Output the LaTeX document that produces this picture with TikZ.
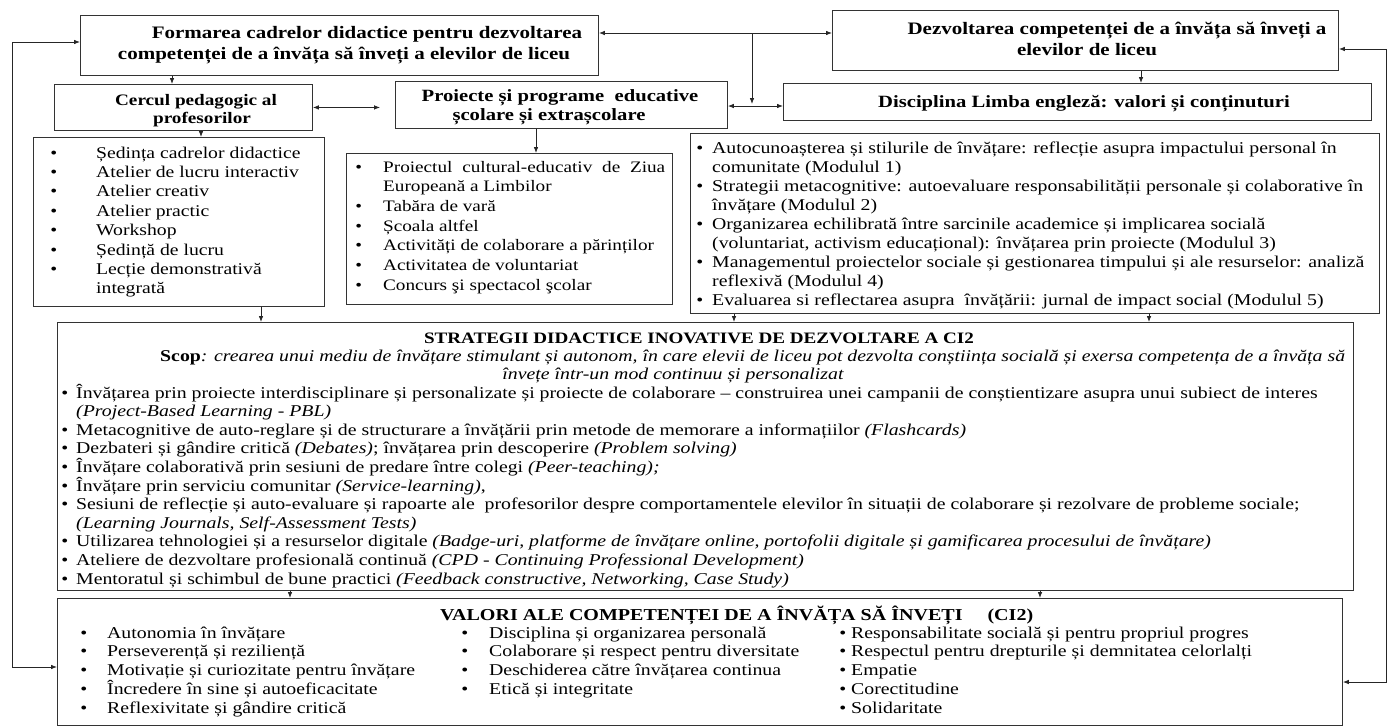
\documentclass[tikz,border=0pt]{standalone}
\usepackage{fontspec}
\setmainfont{Liberation Serif}[FakeStretch=1.2]
\usetikzlibrary{arrows.meta}
\newcommand\mb[1]{\llap{\textbullet\hspace{#1}}}
\begin{document}
\begin{tikzpicture}[x=1pt,y=-1pt,
 box/.style={draw=black!80, line width=0.9pt, inner sep=0pt, anchor=north west},
 arr/.style={draw=black!85, line width=0.8pt, -{Latex[length=6pt,width=4.6pt]}},
 darr/.style={draw=black!85, line width=0.8pt, {Latex[length=6pt,width=4.6pt]}-{Latex[length=6pt,width=4.6pt]}},
 hd/.style={inner sep=0pt, anchor=base, font=\fontsize{17.5}{20}\selectfont\bfseries},
 hdw/.style={inner sep=0pt, anchor=base west},
 ln/.style={inner sep=0pt, anchor=base west},
 ]
\useasboundingbox (0,0) rectangle (1387,726);
% boxes
\node[box, minimum width=518pt, minimum height=60pt] (F) at (80,15) {};
\node[box, minimum width=506pt, minimum height=60pt] (D) at (832,10) {};
\node[box, minimum width=258pt, minimum height=46pt] (C) at (54,84) {};
\node[box, minimum width=332pt, minimum height=47pt] (P) at (395,81) {};
\node[box, minimum width=588pt, minimum height=37pt] (L) at (783,83) {};
\node[box, minimum width=291pt, minimum height=169pt] (CL) at (33,137) {};
\node[box, minimum width=326pt, minimum height=151pt] (PL) at (346,153) {};
\node[box, minimum width=689pt, minimum height=180pt] (RL) at (690,133) {};
\node[box, minimum width=1296pt, minimum height=268pt] (S) at (57,322) {};
\node[box, minimum width=1285pt, minimum height=127pt] (V) at (57,598) {};
% titles
\node[hd] (F1) at (367,38) {Formarea cadrelor didactice pentru dezvoltarea};
\node[hd] (F2) at (344,59) {competenței de a învăța să înveți a elevilor de liceu};
\node[hd] (D1) at (1117,34) {Dezvoltarea competenței de a învăța să înveți a};
\node[hd] (D2) at (1087,55) {elevilor de liceu};
\node[hd, font=\fontsize{16}{18}\selectfont\bfseries] (C1) at (196,105) {Cercul pedagogic al};
\node[hd, font=\fontsize{16}{18}\selectfont\bfseries] (C2) at (202,123) {profesorilor};
\node[hd, font=\fontsize{17.2}{19}\selectfont\bfseries] (P1) at (560,101) {Proiecte și programe\ \ educative};
\node[hd, font=\fontsize{17.2}{19}\selectfont\bfseries] (P2) at (549,120) {școlare și extrașcolare};
\node[hd, font=\fontsize{17.2}{19}\selectfont\bfseries] (L1) at (1084,107) {Disciplina Limba engleză: valori și conținuturi};
% Cercul list
\foreach \tx [count=\i] in {
 {\mb{39pt}Ședința cadrelor didactice},
 {\mb{39pt}Atelier de lucru interactiv},
 {\mb{39pt}Atelier creativ},
 {\mb{39pt}Atelier practic},
 {\mb{39pt}Workshop},
 {\mb{39pt}Ședință de lucru},
 {\mb{39pt}Lecție demonstrativă},
 {integrată}}
 \node[ln, font=\fontsize{16.4}{19}\selectfont] (cl\i) at (96,{158+19.4*(\i-1)}) {\tx};
% Proiecte list
\foreach \tx [count=\i] in {
 {\mb{21pt}\makebox[282pt][s]{Proiectul cultural-educativ de Ziua}},
 {Europeană a Limbilor},
 {\mb{21pt}Tabăra de vară},
 {\mb{21pt}Școala altfel},
 {\mb{21pt}Activități de colaborare a părinților},
 {\mb{21pt}Activitatea de voluntariat},
 {\mb{21pt}Concurs şi spectacol şcolar}}
 \node[ln, font=\fontsize{16}{19}\selectfont] (pl\i) at (383,{172+19.7*(\i-1)}) {\tx};
% right list
\foreach \tx [count=\i] in {
 {\mb{9pt}Autocunoașterea și stilurile de învățare: reflecție asupra impactului personal în},
 {comunitate (Modulul 1)},
 {\mb{9pt}Strategii metacognitive: autoevaluare responsabilității personale și colaborative în},
 {învățare (Modulul 2)},
 {\mb{9pt}Organizarea echilibrată între sarcinile academice și implicarea socială},
 {(voluntariat, activism educațional): învățarea prin proiecte (Modulul 3)},
 {\mb{9pt}Managementul proiectelor sociale și gestionarea timpului și ale resurselor: analiză},
 {reflexivă (Modulul 4)},
 {\mb{9pt}Evaluarea si reflectarea asupra\ \ învățării: jurnal de impact social (Modulul 5)}}
 \node[ln, font=\fontsize{16.5}{19}\selectfont] (rl\i) at (712,{153+19*(\i-1)}) {\tx};
% Strategii
\node[hd, font=\fontsize{15.9}{18}\selectfont\bfseries] (S0) at (699,343) {STRATEGII DIDACTICE INOVATIVE DE DEZVOLTARE A CI2};
\node[ln, font=\fontsize{16.5}{18}\selectfont] (S1) at (160,361) {\textbf{Scop}\textit{: crearea unui mediu de învățare stimulant și autonom, în care elevii de liceu pot dezvolta conștiința socială și exersa competența de a învăța să}};
\node[hd, font=\fontsize{16.5}{18}\selectfont\itshape] (S2) at (673,379) {învețe într-un mod continuu și personalizat};
\foreach \tx [count=\i] in {
 {\mb{8pt}Învățarea prin proiecte interdisciplinare și personalizate și proiecte de colaborare – construirea unei campanii de conștientizare asupra unui subiect de interes},
 {\textit{(Project-Based Learning - PBL)}},
 {\mb{8pt}Metacognitive de auto-reglare și de structurare a învățării prin metode de memorare a informațiilor \textit{(Flashcards)}},
 {\mb{8pt}Dezbateri și gândire critică \textit{(Debates)}; învățarea prin descoperire \textit{(Problem solving)}},
 {\mb{8pt}Învățare colaborativă prin sesiuni de predare între colegi \textit{(Peer-teaching);}},
 {\mb{8pt}Învățare prin serviciu comunitar \textit{(Service-learning)},},
 {\mb{8pt}Sesiuni de reflecție și auto-evaluare și rapoarte ale\ \ profesorilor despre comportamentele elevilor în situații de colaborare și rezolvare de probleme sociale;},
 {\textit{(Learning Journals, Self-Assessment Tests)}},
 {\mb{8pt}Utilizarea tehnologiei și a resurselor digitale \textit{(Badge-uri, platforme de învățare online, portofolii digitale și gamificarea procesului de învățare)}},
 {\mb{8pt}Ateliere de dezvoltare profesională continuă \textit{(CPD - Continuing Professional Development)}},
 {\mb{8pt}Mentoratul și schimbul de bune practici \textit{(Feedback constructive, Networking, Case Study)}}}
 \node[ln, font=\fontsize{16.5}{18}\selectfont] (s\i) at (76,{398+18.6*(\i-1)}) {\tx};
% Valori
\node[hdw, font=\fontsize{16.7}{19}\selectfont\bfseries] (V0) at (440,620) {VALORI ALE COMPETENȚEI DE A ÎNVĂȚA SĂ ÎNVEȚI\hspace{25pt}(CI2)};
\foreach \tx [count=\i] in {
 {Autonomia în învățare},
 {Perseverență și reziliență},
 {Motivație și curiozitate pentru învățare},
 {Încredere în sine și autoeficacitate},
 {Reflexivitate și gândire critică}}
 \node[ln, font=\fontsize{16.5}{19}\selectfont] (va\i) at (107,{638+18.8*(\i-1)}) {\mb{20pt}\tx};
\foreach \tx [count=\i] in {
 {Disciplina și organizarea personală},
 {Colaborare și respect pentru diversitate},
 {Deschiderea către învățarea continua},
 {Etică și integritate}}
 \node[ln, font=\fontsize{16.5}{19}\selectfont] (vb\i) at (489,{638+18.8*(\i-1)}) {\mb{21pt}\tx};
\foreach \tx [count=\i] in {
 {Responsabilitate socială și pentru propriul progres},
 {Respectul pentru drepturile și demnitatea celorlalți},
 {Empatie},
 {Corectitudine},
 {Solidaritate}}
 \node[ln, font=\fontsize{16.5}{19}\selectfont] (vc\i) at (851,{638+18.8*(\i-1)}) {\mb{5pt}\tx};
% connector coordinates
\coordinate (ty) at (0,33);
\coordinate (my) at (0,106);
\coordinate (br) at (752,33);
\coordinate (brb) at (752,104);
\coordinate (lt) at (12,42);
\coordinate (lb) at (12,667);
\coordinate (rt) at (1386,49);
\coordinate (rb) at (1386,682);
\coordinate (k172) at (172,0);
\coordinate (k201) at (201,0);
\coordinate (k536) at (536,0);
\coordinate (k1141) at (1141,0);
\coordinate (k261) at (261,0);
\coordinate (k734) at (734,0);
\coordinate (k1149) at (1149,0);
\coordinate (k290) at (290,0);
\coordinate (k1040) at (1040,0);
% connectors
\draw[darr] (F.east |- ty) -- (D.west |- ty);
\draw[arr] (br) -- (brb);
\draw[darr] (P.east |- my) -- (L.west |- my);
\draw[darr, shorten >=15pt] (C.east) -- (C.east -| P.west);
\draw[arr] (F.south -| k172) -- (C.north -| k172);
\draw[arr] (C.south -| k201) -- (CL.north -| k201);
\draw[arr] (P.south -| k536) -- (PL.north -| k536);
\draw[arr] (D.south -| k1141) -- (L.north -| k1141);
\draw[arr] (CL.south -| k261) -- (S.north -| k261);
\draw[arr] (RL.south -| k734) -- (S.north -| k734);
\draw[arr] (RL.south -| k1149) -- (S.north -| k1149);
\draw[arr] (S.south -| k290) -- (V.north -| k290);
\draw[arr] (S.south -| k1040) -- (V.north -| k1040);
\draw[darr] (F.west |- lt) -- (lt) -- (lb) -- (V.west |- lb);
\draw[darr] (D.east |- rt) -- (rt) -- (rb) -- (V.east |- rb);
\end{tikzpicture}
\end{document}
